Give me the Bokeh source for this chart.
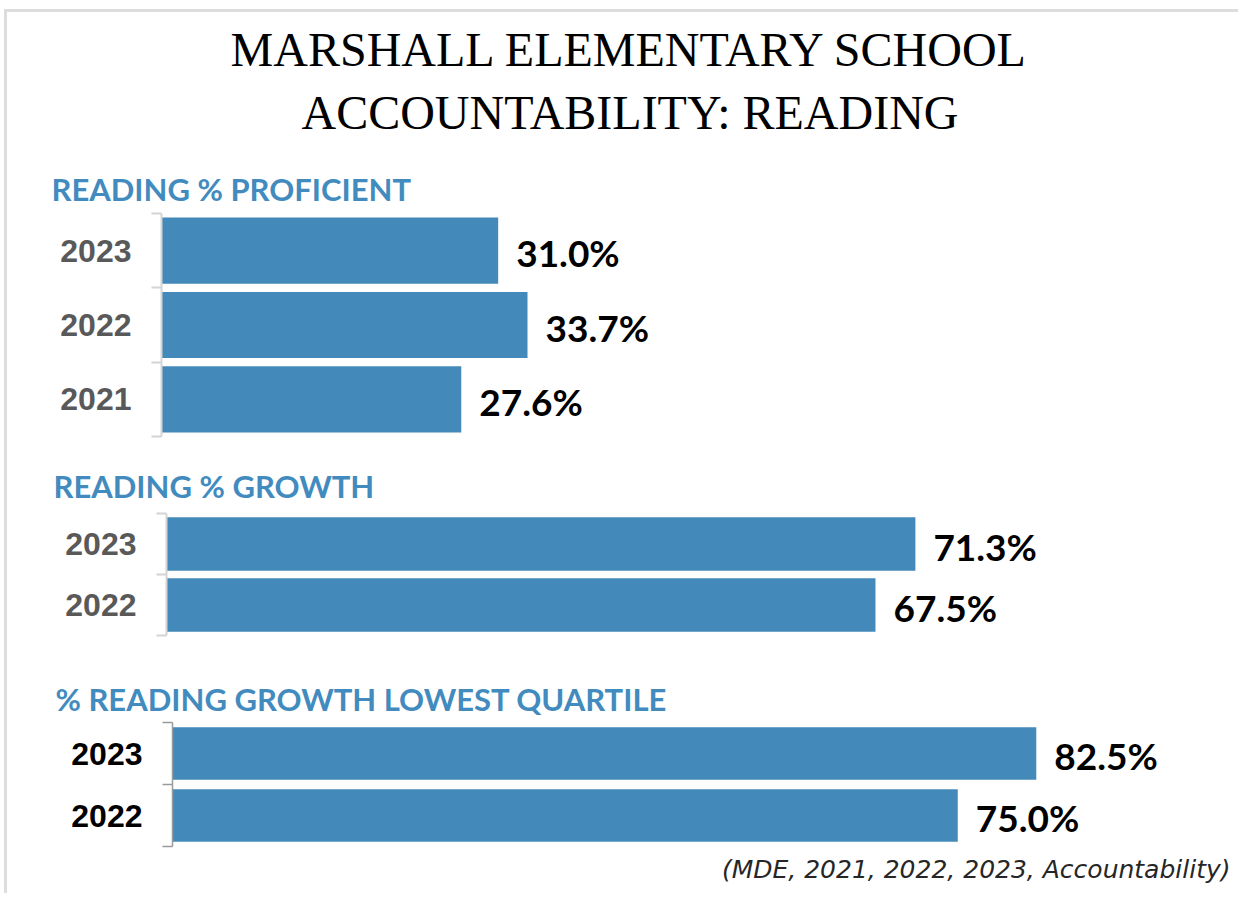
from bokeh.plotting import figure
from bokeh.models import Range1d, FixedTicker, ColumnDataSource, Title
from bokeh.layouts import column
from bokeh.embed import file_html
from bokeh.resources import INLINE
from bokeh.core.properties import value

# ---------------- data ----------------
TITLE_LINE_1 = "MARSHALL ELEMENTARY SCHOOL"
TITLE_LINE_2 = "ACCOUNTABILITY: READING"
SOURCE_NOTE = "(MDE, 2021, 2022, 2023, Accountability)"

prof_header = "READING % PROFICIENT"
prof_years = ["2023", "2022", "2021"]
prof_values = [31.0, 33.7, 27.6]

growth_header = "READING % GROWTH"
growth_years = ["2023", "2022"]
growth_values = [71.3, 67.5]

lq_header = "% READING GROWTH LOWEST QUARTILE"
lq_years = ["2023", "2022"]
lq_values = [82.5, 75.0]

# ---------------- style ----------------
BAR_COLOR = "#4389BA"
HEAD_COLOR = "#428BBF"
FIG_W = 1231


def make_panel(years, values, header, height, b_top, b_bottom, b_left, x_end,
               bar_frac, axis_color, axis_width, label_color, head_dx, head_standoff):
    n = len(years)
    idx = list(range(n))
    src = ColumnDataSource(dict(
        y=idx, v=values, lbl=[f"{v:.1f}%" for v in values]))
    p = figure(width=FIG_W, height=height, title=header,
               x_range=Range1d(0, x_end), y_range=Range1d(n - 0.5, -0.5),
               output_backend="svg", toolbar_location=None, frame_align=False,
               min_border_left=b_left, min_border_right=8,
               min_border_top=b_top, min_border_bottom=b_bottom)
    p.hbar(y="y", left=0, right="v", height=bar_frac, source=src,
           fill_color=BAR_COLOR, line_color=None)
    p.text(x="v", y="y", text="lbl", source=src, x_offset=18, y_offset=2,
           text_font=value("Lato"), text_font_style="bold",
           text_font_size="37px", text_baseline="middle", text_align="left",
           text_color="#000000")
    p.xaxis.visible = False
    p.xgrid.visible = False
    p.ygrid.visible = False
    p.outline_line_color = None

    t = p.title
    t.text_font = "Lato"
    t.text_font_style = "bold"
    t.text_font_size = "31px"
    t.text_color = HEAD_COLOR
    t.align = "left"
    t.offset = head_dx
    t.standoff = head_standoff

    ax = p.yaxis[0]
    ax.ticker = FixedTicker(ticks=idx, minor_ticks=[i - 0.5 for i in range(n + 1)])
    ax.major_label_overrides = {i: years[i] for i in idx}
    ax.major_tick_line_color = None
    ax.major_tick_out = 10
    ax.major_tick_in = 0
    ax.minor_tick_out = 10
    ax.minor_tick_in = 0
    ax.minor_tick_line_color = axis_color
    ax.minor_tick_line_width = axis_width
    ax.axis_line_color = axis_color
    ax.axis_line_width = axis_width
    ax.major_label_standoff = 20
    ax.major_label_text_font = "Liberation Sans"
    ax.major_label_text_font_style = "bold"
    ax.major_label_text_font_size = "32px"
    ax.major_label_text_color = label_color
    return p


# ---- title block (text only) ----
p0 = figure(width=FIG_W, height=138, title=None,
            x_range=Range1d(0, 1), y_range=Range1d(0, 1),
            output_backend="svg", toolbar_location=None, frame_align=False,
            min_border_left=0, min_border_right=0, min_border_top=0,
            min_border_bottom=0)
p0.axis.visible = False
p0.grid.visible = False
p0.outline_line_color = None
for txt, dy in ((TITLE_LINE_1, 37), (TITLE_LINE_2, 100)):
    p0.text(x=[0.5], y=[1], text=[txt], x_offset=7, y_offset=dy,
            text_font=value("Liberation Serif"), text_font_size="48px",
            text_align="center", text_baseline="alphabetic",
            text_color="#000000")

p1 = make_panel(prof_years, prof_values, prof_header, height=305, b_top=63,
                b_bottom=19, b_left=154, x_end=98.43, bar_frac=0.89,
                axis_color="#d4d4d4", axis_width=2, label_color="#595959",
                head_dx=-110, head_standoff=12)
p2 = make_panel(growth_years, growth_values, growth_header, height=210, b_top=57,
                b_bottom=30, b_left=159, x_end=101.3, bar_frac=0.88,
                axis_color="#d4d4d4", axis_width=2, label_color="#595959",
                head_dx=-113, head_standoff=18)
p3 = make_panel(lq_years, lq_values, lq_header, height=228, b_top=57,
                b_bottom=47, b_left=165, x_end=101.05, bar_frac=0.85,
                axis_color="#9a9a9a", axis_width=1.5, label_color="#000000",
                head_dx=-117, head_standoff=10)

# source note under the last panel
p3.add_layout(Title(text=SOURCE_NOTE, align="right", offset=0, standoff=12,
                    text_font="DejaVu Sans", text_font_style="italic",
                    text_font_size="25px", text_color="#262626"), "below")

layout = column(p0, p1, p2, p3, spacing=0,
                styles={"border-top": "3px solid #dddddd",
                        "border-left": "3px solid #dddddd",
                        "margin-top": "9px", "margin-left": "4px"})

open("out.html", "w").write(file_html(layout, INLINE))
